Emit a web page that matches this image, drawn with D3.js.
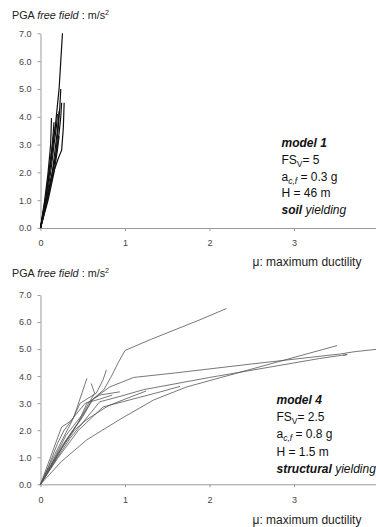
<!DOCTYPE html>
<html><head><meta charset="utf-8">
<script src="https://cdn.jsdelivr.net/npm/d3@7"></script>
<style>
html,body{margin:0;padding:0;background:#fff;}
svg{display:block;font-family:"Liberation Sans",Arial,sans-serif;}
</style></head>
<body>
<svg id="chart" width="376" height="527"></svg>
<script>
// ---------- data ----------
const xTicks = [0, 1, 2, 3, 4];
const yTicks = [0, 1, 2, 3, 4, 5, 6, 7];
const yTitle = ["PGA ", "free field", " : m/s", "2"];
const xTitle = "\u03bc: maximum ductility";

// model 1 (soil yielding) curves: [mu, PGA]
const model1Series = [
  [[0,0],[0.07,1.2],[0.13,2.5],[0.18,3.8],[0.22,5.0],[0.24,6.0],[0.26,7.0]],
  [[0,0],[0.08,1.0],[0.15,1.97],[0.21,2.5],[0.25,2.8],[0.27,3.6],[0.28,4.5]],
  [[0,0],[0.1,1.4],[0.17,2.4],[0.22,3.4],[0.24,4.0],[0.25,4.5]],
  [[0,0],[0.05,1.0],[0.09,2.0],[0.12,3.0],[0.13,3.95]],
  [[0,0],[0.06,1.0],[0.1,2.0],[0.14,3.0],[0.15,3.4],[0.16,3.8]],
  [[0,0],[0.07,1.0],[0.12,2.0],[0.16,3.0],[0.19,3.7],[0.2,4.1]],
  [[0,0],[0.08,1.0],[0.14,2.0],[0.18,3.0],[0.2,3.5],[0.22,4.2]],
  [[0,0],[0.06,1.1],[0.11,2.2],[0.15,3.2],[0.18,3.7]],
  [[0,0],[0.09,1.0],[0.16,2.0],[0.2,2.8],[0.22,3.3]],
  [[0,0],[0.1,1.3],[0.18,2.6],[0.21,3.6],[0.23,4.4],[0.24,5.0]]
];

// model 4 (structural yielding) curves: [mu, PGA]
const model4Series = [
  [[0,0],[0.12,0.7],[0.25,1.4],[0.45,2.3],[0.62,3.15],[0.75,3.5],[0.84,4.0],[0.92,4.5],[1.0,4.95],[1.3,5.35],[1.9,6.1],[2.2,6.5]],
  [[0,0],[0.15,0.8],[0.3,1.6],[0.5,2.5],[0.62,3.15],[0.82,3.6],[1.1,3.95],[1.6,4.12],[2.5,4.45],[3.55,4.82],[3.71,4.9],[4.0,5.0]],
  [[0,0],[0.25,0.85],[0.55,1.65],[0.94,2.4],[1.34,3.12],[1.73,3.6],[3.51,5.13]],
  [[0,0],[0.15,0.75],[0.35,1.7],[0.7,3.05],[0.94,3.25],[1.22,3.5],[2.0,3.95],[3.3,4.65],[3.63,4.8],[3.58,4.76]],
  [[0,0],[0.1,0.7],[0.2,1.5],[0.28,2.0],[0.39,2.45],[0.55,3.92]],
  [[0,0],[0.12,0.8],[0.25,1.6],[0.35,2.2],[0.47,3.0],[0.66,3.37],[0.74,3.86],[0.78,4.23]],
  [[0,0],[0.12,0.7],[0.3,1.8],[0.5,2.6],[0.64,3.37],[0.6,3.73]],
  [[0,0],[0.12,0.6],[0.3,1.6],[0.45,2.3],[0.55,3.0],[0.7,3.3],[0.94,3.42]],
  [[0,0],[0.25,2.12],[0.35,2.32],[0.53,3.0],[0.7,3.15],[0.85,3.3]],
  [[0,0],[0.2,0.95],[0.45,2.0],[0.74,2.86],[1.42,3.42],[1.65,3.62]],
  [[0,0],[0.2,1.1],[0.4,2.0],[0.55,2.4],[0.8,2.9],[1.0,3.15],[1.25,3.45]]
];

// annotation lines: each a list of [text, weight, style, shift]
const model1Notes = [
  [["model 1","bold","italic",0]],
  [["FS","normal","normal",0],["V","normal","normal",1],["= 5","normal","normal",0]],
  [["a","normal","normal",0],["c,f","normal","italic",1],[" = 0.3 g","normal","normal",0]],
  [["H = 46 m","normal","normal",0]],
  [["soil","bold","italic",0],[" yielding","normal","italic",0]]
];
const model4Notes = [
  [["model 4","bold","italic",0]],
  [["FS","normal","normal",0],["V","normal","normal",1],["= 2.5","normal","normal",0]],
  [["a","normal","normal",0],["c,f","normal","italic",1],[" = 0.8 g","normal","normal",0]],
  [["H = 1.5 m","normal","normal",0]],
  [["structural","bold","italic",0],[" yielding","normal","italic",0]]
];

// ---------- drawing ----------
const svg = d3.select("#chart");

function panel(cfg) {
  const g = svg.append("g");
  const x = d3.scaleLinear().domain([0, 4]).range([40.5, 378.5]);
  const y = d3.scaleLinear().domain([0, 7]).range([cfg.y0, cfg.y7]);

  // y axis
  const ya = g.append("g").attr("transform", "translate(40.5,0)")
    .call(d3.axisLeft(y).tickValues(yTicks).tickFormat(d3.format(".1f")).tickSize(3).tickSizeOuter(0).tickPadding(6));
  ya.select(".domain").attr("stroke", "#9a9a9a");
  ya.selectAll(".tick line").attr("stroke", "#9a9a9a");
  ya.selectAll(".tick text").attr("fill", "#444").style("font-size", "9px");

  // x axis
  const xa = g.append("g").attr("transform", `translate(0,${cfg.y0})`)
    .call(d3.axisBottom(x).tickValues(xTicks).tickFormat(d3.format("d")).tickSize(3).tickSizeOuter(0).tickPadding(9));
  xa.select(".domain").attr("stroke", "#9a9a9a");
  xa.selectAll(".tick line").attr("stroke", "#9a9a9a");
  xa.selectAll(".tick text").attr("fill", "#444").style("font-size", "9px");

  // curves
  const line = d3.line().x(d => x(d[0])).y(d => y(d[1]));
  g.append("g").selectAll("path").data(cfg.series).join("path")
    .attr("d", line).attr("fill", "none")
    .attr("stroke", cfg.color).attr("stroke-width", cfg.width)
    .attr("stroke-linejoin", "round");

  // y title
  const t = g.append("text").attr("x", 12).attr("y", cfg.titleY)
    .attr("fill", "#222").style("font-size", "10.8px");
  t.append("tspan").text(yTitle[0]);
  t.append("tspan").text(yTitle[1]).style("font-style", "italic");
  t.append("tspan").text(yTitle[2]);
  t.append("tspan").text(yTitle[3]).attr("dy", -4).style("font-size", "7px");

  // x title
  g.append("text").attr("x", 252.5).attr("y", cfg.xTitleY)
    .attr("fill", "#222").style("font-size", "12px").text(xTitle);

  // notes
  cfg.notes.forEach((row, i) => {
    const tx = g.append("text").attr("x", cfg.noteX).attr("y", cfg.noteY + i * cfg.noteDy)
      .attr("fill", "#111").style("font-size", "12px");
    let shifted = false;
    row.forEach(seg => {
      const ts = tx.append("tspan").text(seg[0])
        .style("font-weight", seg[1]).style("font-style", seg[2]);
      if (seg[3] === 1) { ts.attr("dy", 3).style("font-size", "8.5px"); shifted = true; }
      else if (shifted) { ts.attr("dy", -3); shifted = false; }
    });
  });
}

panel({y0: 228, y7: 33.3, series: model1Series, color: "#111", width: 1.2,
  titleY: 18.5, xTitleY: 266, notes: model1Notes, noteX: 281.5, noteY: 147, noteDy: 16.8});
panel({y0: 484.3, y7: 295, series: model4Series, color: "#555", width: 0.8,
  titleY: 277, xTitleY: 524, notes: model4Notes, noteX: 276.5, noteY: 404, noteDy: 17.2});
</script>
</body></html>
